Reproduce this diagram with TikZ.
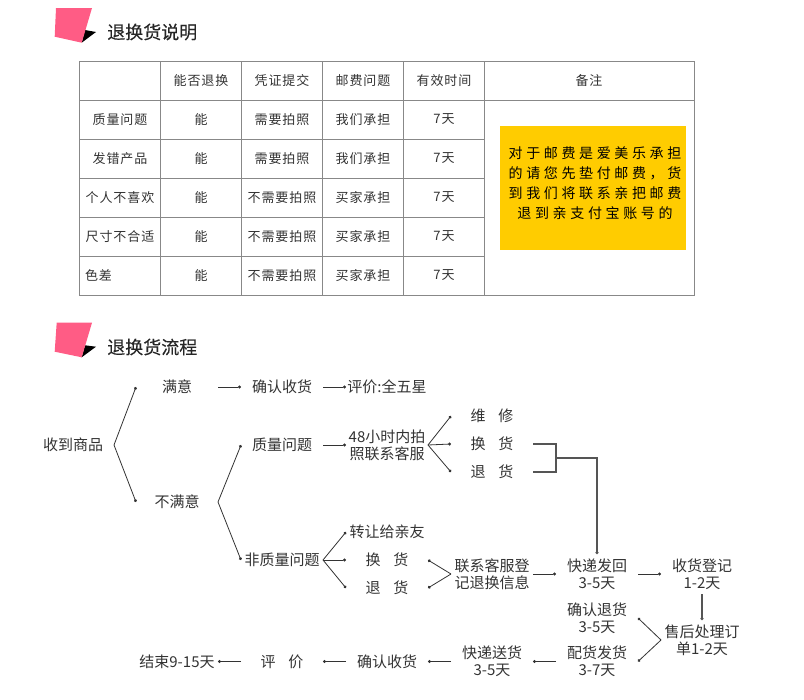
\documentclass[tikz,border=0pt]{standalone}
\usepackage{fontspec}
\setmainfont{Noto Sans CJK SC}
\newfontfamily\tblfont[LetterSpace=7]{Noto Sans CJK SC}
\newfontfamily\notefont[LetterSpace=26]{Noto Sans CJK SC}
\newfontfamily\headfont[FakeBold=0.25]{Noto Sans CJK SC}
\usetikzlibrary{arrows.meta}
\definecolor{ink}{HTML}{333333}
\definecolor{rule}{HTML}{888888}
\definecolor{pinkbox}{HTML}{FF5C85}
\definecolor{notebg}{HTML}{FFCC00}
\definecolor{barline}{HTML}{555555}
\tikzset{
  flow/.style={text=ink,inner sep=0pt,outer sep=0pt,minimum width=61.5pt,minimum height=30pt,align=center,font=\fontsize{11.25}{12.75}\selectfont},
  link/.style={draw=ink,line width=0.6pt,-{Circle[length=2.2pt]}},
  bar/.style={draw=barline,line width=0.95pt},
  cell/.style={draw=rule,line width=0.75pt,text=ink,inner sep=0pt,outer sep=0pt,minimum width=60.75pt,minimum height=29.25pt,font=\tblfont\fontsize{9.75}{12}\selectfont},
  heading/.style={anchor=west,inner sep=0pt,text=black!85,font=\headfont\fontsize{13.5}{16}\selectfont},
  flag/.style={fill=pinkbox,draw=none},
  flagshade/.style={fill=black,draw=none}
}
\begin{document}
\begin{tikzpicture}[x=0.75pt,y=-0.75pt]
\useasboundingbox (0,0) rectangle (804,700);
% section marks
\fill[flagshade] (85,30) -- (96,32) -- (81.7,42.7) -- cycle;
\fill[flag] (56,8) -- (92,8) -- (81.7,42.7) -- (54.7,36.7) -- cycle;
\fill[flagshade] (85,345.3) -- (96,346.7) -- (81.7,357.3) -- cycle;
\fill[flag] (56.7,322.7) -- (92,322.7) -- (81.7,357.3) -- (54.7,351.7) -- cycle;
\node[heading] (t1) at (107,32) {退换货说明};
\node[heading] (t2) at (107,347) {退换货流程};
% table
\node[cell] (c00) at (120,80.5) {};
\node[cell] (c01) at (201,80.5) {能否退换};
\node[cell] (c02) at (282,80.5) {凭证提交};
\node[cell] (c03) at (363,80.5) {邮费问题};
\node[cell] (c04) at (444,80.5) {有效时间};
\node[cell,minimum width=157.5pt] (c05) at (589,80.5) {备注};
\node[cell] (c10) at (120,119.5) {质量问题};
\node[cell] (c11) at (201,119.5) {能};
\node[cell] (c12) at (282,119.5) {需要拍照};
\node[cell] (c13) at (363,119.5) {我们承担};
\node[cell] (c14) at (444,119.5) {7天};
\node[cell] (c20) at (120,158.5) {发错产品};
\node[cell] (c21) at (201,158.5) {能};
\node[cell] (c22) at (282,158.5) {需要拍照};
\node[cell] (c23) at (363,158.5) {我们承担};
\node[cell] (c24) at (444,158.5) {7天};
\node[cell] (c30) at (120,197.5) {个人不喜欢};
\node[cell] (c31) at (201,197.5) {能};
\node[cell] (c32) at (282,197.5) {不需要拍照};
\node[cell] (c33) at (363,197.5) {买家承担};
\node[cell] (c34) at (444,197.5) {7天};
\node[cell] (c40) at (120,236.5) {尺寸不合适};
\node[cell] (c41) at (201,236.5) {能};
\node[cell] (c42) at (282,236.5) {不需要拍照};
\node[cell] (c43) at (363,236.5) {买家承担};
\node[cell] (c44) at (444,236.5) {7天};
\node[cell] (c50) at (120,275.5) {\makebox[52.5pt][l]{色差}};
\node[cell] (c51) at (201,275.5) {能};
\node[cell] (c52) at (282,275.5) {不需要拍照};
\node[cell] (c53) at (363,275.5) {买家承担};
\node[cell] (c54) at (444,275.5) {7天};
\node[cell,minimum width=157.5pt,minimum height=146.25pt] (remark) at (589,197.5) {};
\node[fill=notebg,inner sep=0pt,minimum width=139.5pt,minimum height=93pt] (note) at (593,188) {};
\node[inner sep=0pt,align=center,text=black,font=\notefont\fontsize{10.5}{15}\selectfont] (notetext) at (595,183.5) {对于邮费是爱美乐承担\\的请您先垫付邮费，货\\到我们将联系亲把邮费\\退到亲支付宝账号的};
% flow nodes
\node[flow] (shoudao) at (73,445) {收到商品};
\node[flow] (manyi) at (177,387) {满意};
\node[flow] (bumanyi) at (177,502) {不满意};
\node[flow] (qr1) at (282,387) {确认收货};
\node[flow] (pj1) at (387,387) {评价:全五星};
\node[flow] (zhiliang) at (282,445) {质量问题};
\node[flow] (h48) at (387,445) {48小时内拍\\照联系客服};
\node[flow] (weixiu) at (492,416) {维\hspace{9.75pt}修};
\node[flow] (huan1) at (492,444) {换\hspace{9.75pt}货};
\node[flow] (tui1) at (492,472) {退\hspace{9.75pt}货};
\node[flow] (fei) at (282,560) {非质量问题};
\node[flow] (zhuan) at (387,532) {转让给亲友};
\node[flow] (huan2) at (387,560) {换\hspace{9.75pt}货};
\node[flow] (tui2) at (387,588) {退\hspace{9.75pt}货};
\node[flow] (lianxi) at (492,574) {联系客服登\\记退换信息};
\node[flow] (kuaidi) at (597,574) {快递发回\\3-5天};
\node[flow] (shouhuo) at (702,574) {收货登记\\1-2天};
\node[flow] (queren) at (597,618) {确认退货\\3-5天};
\node[flow] (peihuo) at (597,661.5) {配货发货\\3-7天};
\node[flow] (shouhou) at (702,640) {售后处理订\\单1-2天};
\node[flow] (kuaisong) at (492,661.5) {快递送货\\3-5天};
\node[flow] (qr2) at (387,661.5) {确认收货};
\node[flow] (pj2) at (282,661.5) {评\hspace{9.75pt}价};
\node[flow] (jieshu) at (177,661.5) {结束9-15天};
% connectors
\draw[link] (shoudao.east) -- (manyi.west);
\draw[link] (shoudao.east) -- (bumanyi.west);
\draw[link] (manyi.east) -- (qr1.west);
\draw[link] (qr1.east) -- (pj1.west);
\draw[link] (bumanyi.east) -- (zhiliang.west);
\draw[link] (bumanyi.east) -- (fei.west);
\draw[link] (zhiliang.east) -- (h48.west);
\draw[link] (h48.east) -- (weixiu.west);
\draw[link] (h48.east) -- (huan1.west);
\draw[link] (h48.east) -- (tui1.west);
\draw[link] (fei.east) -- (zhuan.west);
\draw[link] (fei.east) -- (huan2.west);
\draw[link] (fei.east) -- (tui2.west);
\draw[link] (lianxi.west) -- (huan2.east);
\draw[link] (lianxi.west) -- (tui2.east);
\draw[link] (lianxi.east) -- (kuaidi.west);
\draw[link] (kuaidi.east) -- (shouhuo.west);
\coordinate (brk) at (556,458);
\draw[bar] (huan1.east) -| (brk);
\draw[bar] (tui1.east) -| (brk);
\draw[bar,-{Circle[length=2.2pt]}] (brk) -| (kuaidi.north);
\draw[bar,-{Circle[length=2.2pt]}] (shouhuo.south) -- (shouhou.north);
\draw[link] (shouhou.west) -- (queren.east);
\draw[link] (shouhou.west) -- (peihuo.east);
\draw[link] (peihuo.west) -- (kuaisong.east);
\draw[link] (kuaisong.west) -- (qr2.east);
\draw[link] (qr2.west) -- (pj2.east);
\draw[link] (pj2.west) -- (jieshu.east);
\end{tikzpicture}
\end{document}
